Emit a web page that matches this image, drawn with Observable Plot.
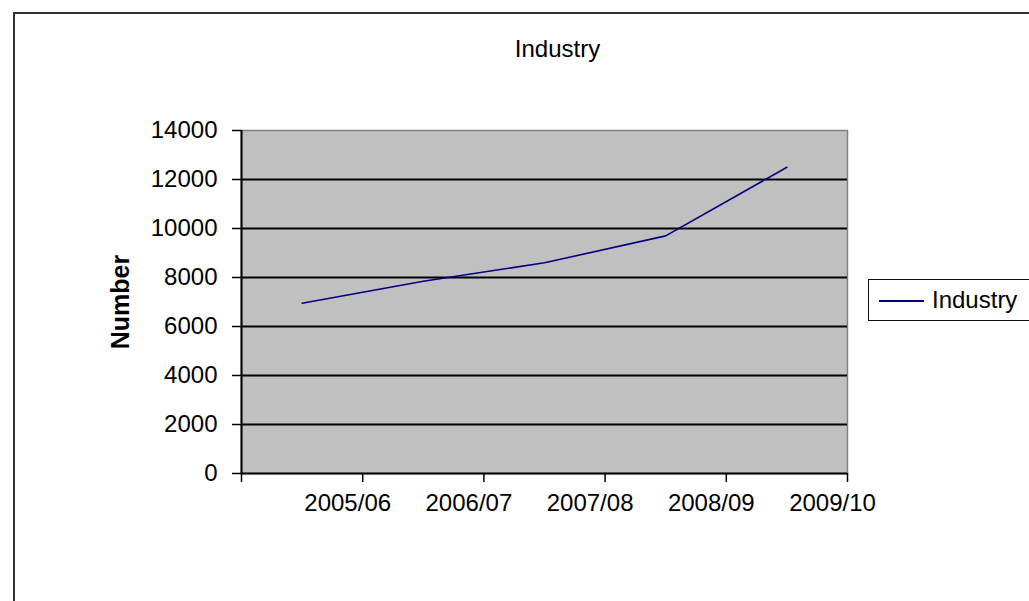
<!DOCTYPE html>
<html>
<head>
<meta charset="utf-8">
<script src="https://cdn.jsdelivr.net/npm/d3@7"></script>
<script src="https://cdn.jsdelivr.net/npm/@observablehq/plot@0.6"></script>
<style>
  html, body { margin: 0; padding: 0; background: #fff; overflow: hidden; width: 1029px; height: 601px; }
  #wrap { position: relative; width: 1029px; height: 601px; font-family: "Liberation Sans", Arial, sans-serif; }
  #border { position: absolute; left: 13px; top: 12px; width: 1100px; height: 700px; border-top: 2px solid #333; border-left: 2px solid #333; }
  #legend { position: absolute; left: 868px; top: 279px; width: 200px; height: 40px; border: 1.5px solid #111; background: #fff; }
  #legend .swatch { position: absolute; left: 10px; top: 20px; width: 45px; height: 0; border-top: 2px solid #000080; }
  #legend .label { position: absolute; left: 63px; top: 6px; font-size: 24px; line-height: 28px; color: #000; }
  svg { position: absolute; left: 0; top: 0; }
</style>
</head>
<body>
<div id="wrap">
  <div id="border"></div>
</div>
<script>
const categories = ["2005/06", "2006/07", "2007/08", "2008/09", "2009/10"];
const values = [6950, 7850, 8600, 9700, 12500];
const yTicks = [0, 2000, 4000, 6000, 8000, 10000, 12000, 14000];
const gridTicks = [2000, 4000, 6000, 8000, 10000, 12000];
const seriesName = "Industry";
const titleText = "Industry";
const yLabel = "Number";

const data = categories.map((c, i) => ({ category: c, value: values[i], pos: i + 0.5 }));
const xTickPositions = d3.range(0, categories.length + 1);

const chart = Plot.plot({
  width: 1029,
  height: 601,
  marginLeft: 241,
  marginRight: 182,
  marginTop: 130,
  marginBottom: 128,
  style: { fontFamily: "'Liberation Sans', Arial, sans-serif", fontSize: "24px", color: "#000", background: "transparent", overflow: "visible" },
  x: { type: "linear", domain: [0, categories.length], axis: null },
  y: { domain: [0, 14000], axis: null },
  marks: [
    Plot.frame({ fill: "#c0c0c0", stroke: "#808080", strokeWidth: 1.5 }),
    Plot.gridY(gridTicks, { stroke: "#000", strokeOpacity: 1, strokeWidth: 2 }),
    Plot.ruleY([0], { stroke: "#000", strokeWidth: 2 }),
    Plot.ruleX([0], { stroke: "#000", strokeWidth: 2 }),
    Plot.axisY({ ticks: yTicks, tickSize: 9, tickPadding: 15, tickFormat: d => String(d), stroke: "#000", strokeWidth: 1.5, fill: "#000", label: null }),
    Plot.axisX({ ticks: xTickPositions, tickSize: 9, tickFormat: () => "", stroke: "#000", strokeWidth: 1.5, label: null }),
    Plot.axisX({ ticks: xTickPositions, tickSize: 0, tickPadding: 20, dx: -15, tickFormat: i => i > 0 ? categories[i - 1] : "", fill: "#000", label: null }),
    Plot.line(data, { x: "pos", y: "value", stroke: "#000080", strokeWidth: 1.6 }),
    Plot.text([titleText], { frameAnchor: "top", lineAnchor: "top", dx: 13, dy: -91, fontSize: 24, fill: "#000" }),
    Plot.text([yLabel], { frameAnchor: "left", textAnchor: "middle", dx: -121, rotate: -90, fontSize: 25, fontWeight: "bold", fill: "#000" })
  ]
});

const wrap = document.getElementById("wrap");
wrap.insertBefore(chart, wrap.firstChild);

const legend = document.createElement("div");
legend.id = "legend";
legend.innerHTML = `<div class="swatch"></div><div class="label">${seriesName}</div>`;
wrap.appendChild(legend);
</script>
</body>
</html>
